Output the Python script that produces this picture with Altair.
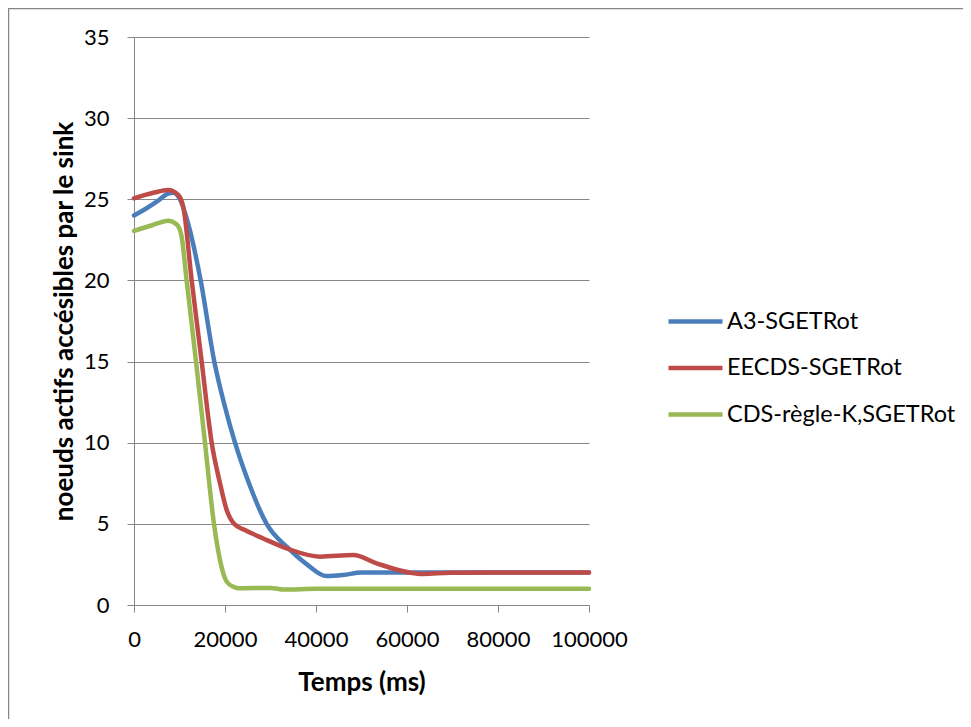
import altair as alt
import pandas as pd

# ---- data ----
series_names = ["A3-SGETRot", "EECDS-SGETRot", "CDS-règle-K,SGETRot"]
series_colors = ["#4A7EBB", "#BE4B48", "#98B954"]

a3_x = [0, 2500, 5000, 7500, 8600, 10100, 11900, 14650, 17650, 20000, 22200,
        25000, 29150, 33900, 38000, 42300, 46000, 50000, 60000, 70000, 80000,
        90000, 100000]
a3_y = [24.0, 24.4, 24.85, 25.35, 25.4, 25.0, 23.5, 20.0, 15.0, 12.2, 10.0,
        7.7, 5.0, 3.5, 2.5, 1.78, 1.85, 2.0, 2.0, 2.0, 2.0, 2.0, 2.0]

ee_x = [0, 4250, 7550, 9750, 10850, 12680, 14870, 17070, 18900, 20370, 22000,
        24500, 28400, 33550, 40900, 48200, 53300, 60700, 63600, 69500, 80000,
        90000, 100000]
ee_y = [25.06, 25.4, 25.57, 25.26, 24.5, 20.0, 15.0, 10.0, 7.5, 5.85, 5.0,
        4.6, 4.1, 3.49, 2.98, 3.08, 2.57, 1.99, 1.91, 1.99, 2.0, 2.0, 2.0]

cds_x = [0, 4000, 7500, 9400, 10400, 11570, 13630, 15600, 17580, 19630, 20370,
         21830, 23300, 30000, 33000, 40000, 60000, 80000, 100000]
cds_y = [23.05, 23.4, 23.68, 23.45, 22.8, 20.0, 15.0, 10.0, 5.0, 1.95, 1.44,
         1.13, 1.03, 1.05, 0.95, 1.0, 1.0, 1.0, 1.0]

x_ticks = [0, 20000, 40000, 60000, 80000, 100000]
y_ticks = [0, 5, 10, 15, 20, 25, 30, 35]

rows = []
for name, xs, ys in zip(series_names, [a3_x, ee_x, cds_x], [a3_y, ee_y, cds_y]):
    for xv, yv in zip(xs, ys):
        rows.append({"series": name, "t": xv, "v": yv})
df = pd.DataFrame(rows)

FONT = "Lato"
GRID = "#868686"

lines = alt.Chart(df).mark_line(
    interpolate="monotone", strokeWidth=4.5, strokeCap="round", strokeJoin="round"
).encode(
    x=alt.X("t:Q", title="Temps (ms)",
            scale=alt.Scale(domain=[0, 100000], nice=False, zero=False),
            axis=alt.Axis(values=x_ticks, format="d", grid=False,
                          labelOverlap=False, labelBound=False, labelFlush=False,
                          tickSize=7, labelPadding=17, titlePadding=19)),
    y=alt.Y("v:Q", title="noeuds actifs accésibles par le sink",
            scale=alt.Scale(domain=[0, 35], nice=False),
            axis=alt.Axis(values=y_ticks, grid=True, tickSize=7,
                          labelOverlap=False,
                          labelPadding=18, titlePadding=6)),
    color=alt.Color("series:N", sort=series_names,
                    scale=alt.Scale(domain=series_names, range=series_colors),
                    legend=alt.Legend(title=None, orient="none", legendX=532, legendY=255,
                                      symbolType="stroke", symbolSize=2916,
                                      symbolStrokeWidth=4.5, labelOffset=2,
                                      rowPadding=5.5, labelFontSize=23.5, labelLimit=400,
                                      labelFont=FONT, labelColor="black")),
)

frame = alt.Chart(pd.DataFrame({"k": [0]})).mark_rect(
    fill=None, stroke=GRID, strokeWidth=1.5
).encode(
    x=alt.value(-125.5), x2=alt.value(900), y=alt.value(-28.5), y2=alt.value(800)
)

chart = alt.layer(frame, lines).properties(
    width=455, height=568,
    background="white",
    autosize=alt.AutoSizeParams(type="none"),
    padding={"left": 126, "top": 29, "right": 374, "bottom": 114},
).configure_view(stroke=None).configure_axis(
    domainColor=GRID, tickColor=GRID, gridColor=GRID, gridWidth=1,
    domainWidth=1, tickWidth=1,
    labelFont=FONT, labelFontSize=22, labelColor="black",
    titleFont=FONT, titleFontSize=26, titleFontWeight="bold", titleColor="black",
)

chart.save("out.html", embed_options={"renderer": "svg", "actions": False})
